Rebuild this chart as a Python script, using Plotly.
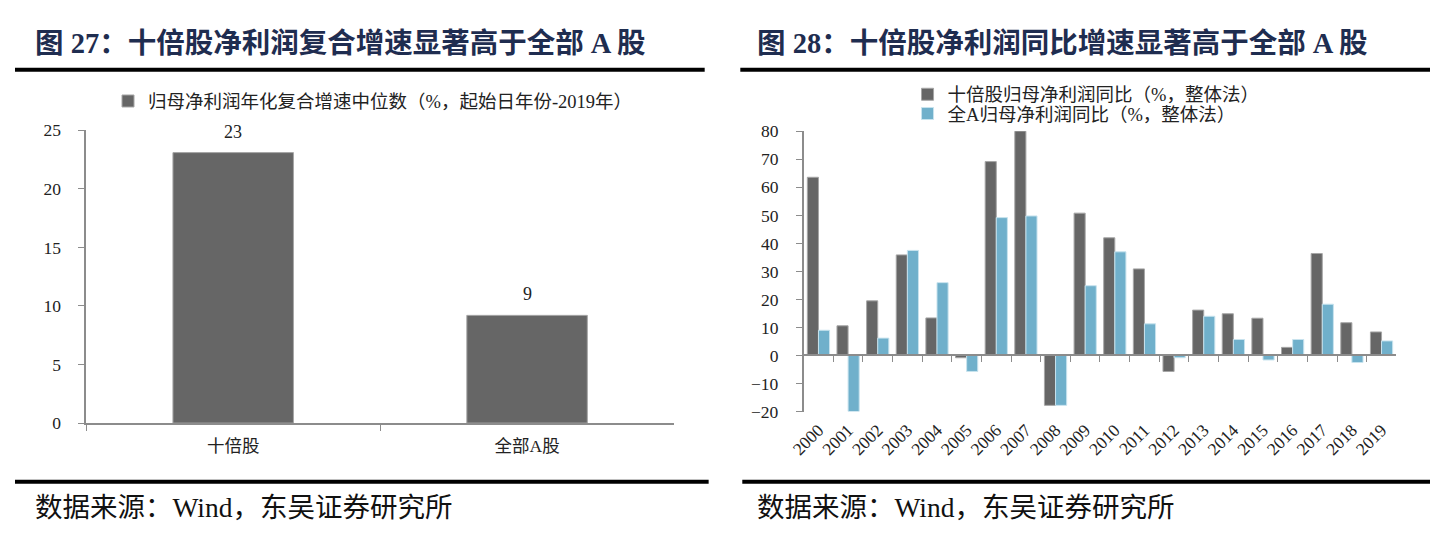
import plotly.graph_objects as go

# ---------------- data ----------------
left_categories = ["十倍股", "全部A股"]
left_values = [23.1, 9.2]
left_series_name = "归母净利润年化复合增速中位数（%，起始日年份-2019年）"

years = [str(y) for y in range(2000, 2020)]
tenbagger_yoy = [63.6, 10.6, 19.5, 35.9, 13.4, -0.8, 69.2, 80.4, -17.8, 50.8,
                 42.0, 30.9, -5.7, 16.2, 14.9, 13.3, 2.9, 36.4, 11.7, 8.4]
all_a_yoy = [9.0, -20.0, 6.2, 37.5, 26.0, -5.7, 49.2, 49.8, -17.8, 24.9,
             37.0, 11.3, -0.8, 14.0, 5.7, -1.6, 5.7, 18.3, -2.5, 5.2]
right_series_names = ["十倍股归母净利润同比（%，整体法）", "全A归母净利润同比（%，整体法）"]

left_title = "图 27：十倍股净利润复合增速显著高于全部 A 股"
right_title = "图 28：十倍股净利润同比增速显著高于全部 A 股"
source_text = "数据来源：Wind，东吴证券研究所"

left_yticks = [0, 5, 10, 15, 20, 25]
right_yticks = list(range(-20, 81, 10))

# ---------------- style ----------------
W, H = 1430, 539
FONT = "Liberation Serif, Noto Sans CJK SC, serif"
GRAY = "#666666"
BLUE = "#70B0CB"
AXIS = "#8c8c8c"
TXT = "#222222"
NAVY = "#1f2d50"


def px(x):
    return x / W


def py(y):
    return 1 - y / H


left_xd = [px(72), px(666)]
left_yd = [py(429), py(125)]
right_xd = [px(797), px(1396)]
right_yd = [py(417), py(126)]
ry_min, ry_max = right_yticks[0], right_yticks[-1]
zero_pos = right_yd[0] + (0 - ry_min) / (ry_max - ry_min) * (right_yd[1] - right_yd[0])

fig = go.Figure()

fig.add_trace(go.Bar(
    x=left_categories, y=left_values, name=left_series_name,
    width=0.41,
    marker=dict(color=GRAY, line=dict(color="#a6a6a6", width=1)),
    xaxis="x", yaxis="y", legend="legend", hoverinfo="skip",
))
# value labels above the left bars
for c, v in zip(left_categories, left_values):
    fig.add_annotation(x=c, y=v, xref="x", yref="y", text=f"{v:.0f}",
                       showarrow=False, yanchor="middle", yshift=21,
                       font=dict(family=FONT, size=18, color=TXT))

fig.add_trace(go.Bar(
    x=years, y=tenbagger_yoy, name=right_series_names[0],
    marker=dict(color=GRAY, line=dict(color="#a6a6a6", width=1)),
    xaxis="x2", yaxis="y2", legend="legend2", hoverinfo="skip",
))
fig.add_trace(go.Bar(
    x=years, y=all_a_yoy, name=right_series_names[1],
    marker=dict(color=BLUE, line=dict(color="#c8e3ee", width=1)),
    xaxis="x2", yaxis="y2", legend="legend3", hoverinfo="skip",
))
# invisible carrier trace for the zero-line category axis (tick marks)
fig.add_trace(go.Scatter(
    x=years, y=[0] * len(years), mode="markers", marker=dict(opacity=0),
    xaxis="x3", yaxis="y2", showlegend=False, hoverinfo="skip",
))

tickfont = dict(family=FONT, size=17.5, color=TXT)
legfont = dict(family=FONT, size=18.5, color=TXT)

fig.update_layout(
    width=W, height=H,
    margin=dict(l=0, r=0, t=0, b=0),
    paper_bgcolor="white", plot_bgcolor="white",
    barmode="group", bargap=0.25, bargroupgap=0,
    font=dict(family=FONT, color=TXT),
    xaxis=dict(domain=left_xd, anchor="y", type="category",
               showline=True, linecolor=AXIS, linewidth=1.5,
               ticks="outside", tickson="boundaries", ticklen=6, tickcolor=AXIS,
               tickfont=tickfont, showgrid=False, zeroline=False,
               ticklabelstandoff=6),
    yaxis=dict(domain=left_yd, anchor="x", range=[0, 25], tickvals=left_yticks,
               showline=True, linecolor=AXIS, linewidth=1.5,
               ticks="outside", ticklen=6, tickcolor=AXIS,
               tickfont=tickfont, showgrid=False, zeroline=False,
               ticklabelstandoff=14),
    xaxis2=dict(domain=right_xd, anchor="y2", type="category",
                showline=False, ticks="", tickangle=-45,
                tickfont=tickfont, showgrid=False, zeroline=False,
                ticklabelstandoff=4),
    xaxis3=dict(domain=right_xd, anchor="free", overlaying="x2", position=zero_pos,
                type="category", categoryarray=years, categoryorder="array",
                range=[-0.5, len(years) - 0.5],
                showline=True, linecolor=AXIS, linewidth=1.5,
                ticks="outside", tickson="boundaries", ticklen=6, tickcolor=AXIS,
                showticklabels=False, showgrid=False, zeroline=False),
    yaxis2=dict(domain=right_yd, anchor="x2", range=[ry_min, ry_max], tickvals=right_yticks,
                showline=True, linecolor=AXIS, linewidth=1.5,
                ticks="outside", ticklen=6, tickcolor=AXIS,
                tickfont=tickfont, showgrid=False, zeroline=False,
                ticklabelstandoff=14),
    legend=dict(x=px(94), y=py(95), xanchor="left", yanchor="middle",
                orientation="h", bgcolor="rgba(0,0,0,0)", font=legfont, itemwidth=30),
    legend2=dict(x=px(902), y=py(88), xanchor="left", yanchor="middle",
                 orientation="h", bgcolor="rgba(0,0,0,0)", font=legfont, itemwidth=30),
    legend3=dict(x=px(902), y=py(108), xanchor="left", yanchor="middle",
                 orientation="h", bgcolor="rgba(0,0,0,0)", font=legfont, itemwidth=30),
    showlegend=True,
)

# titles
for x0, t in [(18, left_title), (748, right_title)]:
    fig.add_annotation(x=px(x0), y=py(35), xref="paper", yref="paper",
                       xanchor="left", yanchor="middle", showarrow=False,
                       text="<b>" + t + "</b>",
                       font=dict(family=FONT, size=28.5, color=NAVY))
# source
for x0 in [18, 748]:
    fig.add_annotation(x=px(x0), y=py(517), xref="paper", yref="paper",
                       xanchor="left", yanchor="middle", showarrow=False,
                       text=source_text,
                       font=dict(family=FONT, size=27.5, color="#111111"))

# decorative rules
rules = [(0, 697, 62), (733, 1430, 62), (0, 701, 490), (735, 1430, 490)]
for x0, x1, yy in rules:
    fig.add_shape(type="line", xref="paper", yref="paper",
                  x0=px(x0), x1=px(x1), y0=py(yy), y1=py(yy),
                  line=dict(color="black", width=4))

fig.write_html("out.html")
